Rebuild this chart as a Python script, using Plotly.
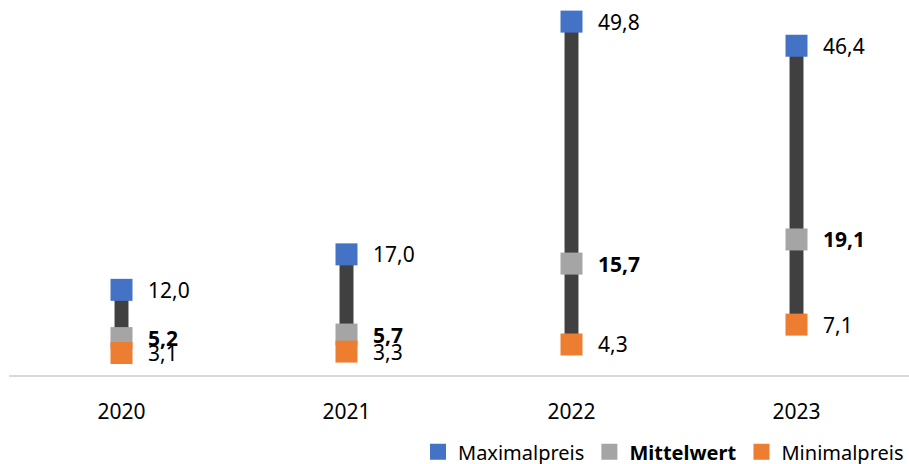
import plotly.graph_objects as go

years = ["2020", "2021", "2022", "2023"]
max_price = [12.0, 17.0, 49.8, 46.4]
mean_price = [5.2, 5.7, 15.7, 19.1]
min_price = [3.1, 3.3, 4.3, 7.1]

FONT = "Noto Sans"
C_MAX = "#4472C4"
C_MEAN = "#A5A5A5"
C_MIN = "#ED7D31"

def fmt(v):
    return f"{v:.1f}".replace(".", ",")

fig = go.Figure()

# high-low line
fig.add_trace(go.Bar(
    x=years, y=[hi - lo for hi, lo in zip(max_price, min_price)], base=min_price,
    width=0.062, marker=dict(color="#404040", line=dict(width=0)),
    showlegend=False, hoverinfo="skip"))

for name, vals, col in [("Maximalpreis", max_price, C_MAX),
                        ("<b>Mittelwert</b>", mean_price, C_MEAN),
                        ("Minimalpreis", min_price, C_MIN)]:
    fig.add_trace(go.Scatter(
        x=years, y=vals, mode="markers", name=name,
        marker=dict(symbol="square", size=22, color=col, line=dict(width=0))))

annotations = []
for vals, bold in [(max_price, False), (mean_price, True), (min_price, False)]:
    for i, v in enumerate(vals):
        t = fmt(v)
        if bold:
            t = f"<b>{t}</b>"
        annotations.append(dict(x=i, xref="x", y=v, yref="y", text=t, showarrow=False,
                                xanchor="left", yanchor="middle", xshift=24,
                                font=dict(family=FONT, size=21, color="#000000")))

fig.update_layout(
    width=909, height=464,
    margin=dict(l=9, r=0, t=6, b=89, autoexpand=False),
    plot_bgcolor="white", paper_bgcolor="white",
    barmode="overlay",
    annotations=annotations,
    font=dict(family=FONT, size=20, color="#000000"),
    showlegend=True,
    legend=dict(orientation="h", x=1.0, xanchor="right", y=-0.155, yanchor="top",
                font=dict(family=FONT, size=20, color="#000000"),
                itemwidth=30, tracegroupgap=0),
    xaxis=dict(type="category", range=[-0.5, 3.5], showgrid=False,
               showline=True, linecolor="#D9D9D9", linewidth=2,
               ticks="", ticklabelstandoff=17,
               tickfont=dict(family=FONT, size=21, color="#000000")),
    yaxis=dict(range=[0, 52], visible=False, showgrid=False, zeroline=False),
)

fig.write_html("out.html")
